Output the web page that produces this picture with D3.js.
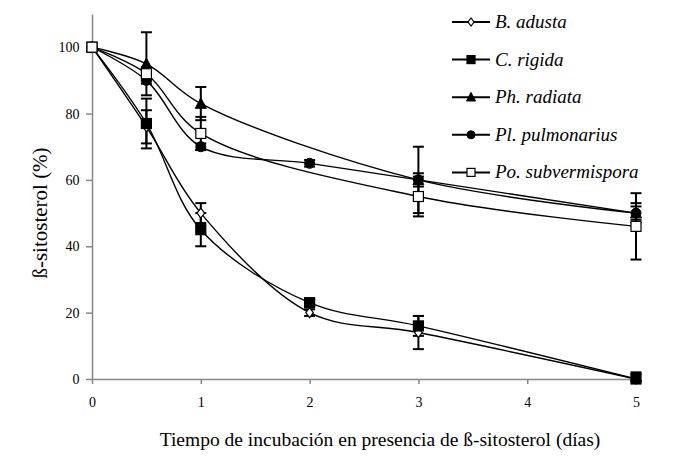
<!DOCTYPE html>
<html>
<head>
<meta charset="utf-8">
<script src="https://cdn.jsdelivr.net/npm/d3@7"></script>
<style>
  body { margin: 0; background: #fff; }
</style>
</head>
<body>
<svg id="chart" width="690" height="457"></svg>
<script>
// ---------- data ----------
const seriesNames = ['B. adusta', 'C. rigida', 'Ph. radiata', 'Pl. pulmonarius', 'Po. subvermispora'];
const markerTypes = ['diamondOpen', 'squareFilled', 'triangleFilled', 'circleFilled', 'squareOpen'];

const xAdusta = [0, 0.5, 1, 2, 3, 5];
const yAdusta = [100, 76, 50, 20, 14, 0];
const eAdusta = [0, 5, 3, 1, 5, 1.5];

const xRigida = [0, 0.5, 1, 2, 3, 5];
const yRigida = [100, 77, 45, 23, 16, 0];
const eRigida = [0, 7.5, 5, 1, 3, 2];

const xRadiata = [0, 0.5, 1, 3, 5];
const yRadiata = [100, 95, 83, 60, 50];
const eRadiata = [0, 9.5, 5, 2, 2];

const xPulmo = [0, 0.5, 1, 2, 3, 5];
const yPulmo = [100, 90, 70, 65, 60, 50];
const ePulmo = [0, 1, 1, 1, 10, 3];

const xSubv = [0, 0.5, 1, 3, 5];
const ySubv = [100, 92, 74, 55, 46];
const eSubv = [0, 2, 5, 6, 10];

const xTicks = [0, 1, 2, 3, 4, 5];
const yTicks = [0, 20, 40, 60, 80, 100];

const series = [
  {x: xAdusta, y: yAdusta, e: eAdusta},
  {x: xRigida, y: yRigida, e: eRigida},
  {x: xRadiata, y: yRadiata, e: eRadiata},
  {x: xPulmo, y: yPulmo, e: ePulmo},
  {x: xSubv, y: ySubv, e: eSubv}
].map((s, i) => ({
  name: seriesNames[i],
  marker: markerTypes[i],
  points: s.x.map((x, j) => ({x: x, y: s.y[j], e: s.e[j]}))
}));

const FONT = 'Liberation Serif';

// ---------- chart ----------
const svg = d3.select('#chart');
const xScale = d3.scaleLinear().domain([0, 5]).range([92, 636]);
const yScale = d3.scaleLinear().domain([0, 110]).range([379, 14]);

function translate(x, y) {
  return `translate(${x}, ${y})`;
}

// axes
const xAxis = svg.append('g')
  .attr('transform', translate(0, yScale(0)))
  .call(d3.axisBottom(xScale).tickValues(xTicks).tickFormat(d3.format('d')).tickSize(5).tickSizeOuter(0));
const yAxis = svg.append('g')
  .attr('transform', translate(xScale(0), 0))
  .call(d3.axisLeft(yScale).tickValues(yTicks).tickFormat(d3.format('d')).tickSize(6).tickSizeOuter(0));

[xAxis, yAxis].forEach(ax => {
  ax.attr('font-family', FONT).attr('font-size', 14);
  ax.select('.domain').attr('stroke', '#888').attr('stroke-width', 1.5);
  ax.selectAll('.tick line').attr('stroke', '#888').attr('stroke-width', 1.5);
  ax.selectAll('.tick text').attr('fill', '#000');
});
xAxis.selectAll('.tick text').attr('dy', '1.45em');
yAxis.selectAll('.tick text').attr('dx', '-0.25em');

// axis titles
svg.append('text')
  .attr('x', 380).attr('y', 446)
  .attr('text-anchor', 'middle')
  .attr('font-family', FONT)
  .attr('font-size', 19.5)
  .text('Tiempo de incubación en presencia de ß-sitosterol (días)');

svg.append('text')
  .attr('transform', translate(47, 213) + ' rotate(-90)')
  .attr('text-anchor', 'middle')
  .attr('font-family', FONT)
  .attr('font-size', 21)
  .text('ß-sitosterol (%)');

// lines
const line = d3.line()
  .x(p => xScale(p.x))
  .y(p => yScale(p.y))
  .curve(d3.curveCatmullRom.alpha(0.5));

const plot = svg.append('g');

series.forEach(s => {
  plot.append('path')
    .attr('d', line(s.points))
    .attr('fill', 'none')
    .attr('stroke', '#000')
    .attr('stroke-width', 1.4);
});

// error bars
series.forEach(s => {
  const bars = plot.append('g').selectAll('g')
    .data(s.points.filter(p => p.e > 0))
    .join('g');
  bars.append('line')
    .attr('x1', p => xScale(p.x)).attr('x2', p => xScale(p.x))
    .attr('y1', p => yScale(p.y + p.e)).attr('y2', p => yScale(Math.max(p.y - p.e, -0.6)))
    .attr('stroke', '#000').attr('stroke-width', 2);
  [1, -1].forEach(sign => {
    bars.append('line')
      .attr('x1', p => xScale(p.x) - 5.5).attr('x2', p => xScale(p.x) + 5.5)
      .attr('y1', p => yScale(Math.max(p.y + sign * p.e, -0.6)))
      .attr('y2', p => yScale(Math.max(p.y + sign * p.e, -0.6)))
      .attr('stroke', '#000').attr('stroke-width', 2);
  });
});

// markers
function drawMarker(g, type, cx, cy, size) {
  const fill = type.endsWith('Open') ? '#fff' : '#000';
  if (type.startsWith('square')) {
    g.append('rect')
      .attr('x', cx - size / 2).attr('y', cy - size / 2)
      .attr('width', size).attr('height', size)
      .attr('fill', fill).attr('stroke', '#000').attr('stroke-width', 1.2);
  } else if (type.startsWith('circle')) {
    g.append('circle')
      .attr('cx', cx).attr('cy', cy).attr('r', size / 2)
      .attr('fill', fill).attr('stroke', '#000').attr('stroke-width', 1);
  } else if (type.startsWith('triangle')) {
    const h = size * 0.95;
    g.append('path')
      .attr('d', `M${cx},${cy - h / 2 - 1}L${cx + size / 2 + 0.5},${cy + h / 2}L${cx - size / 2 - 0.5},${cy + h / 2}Z`)
      .attr('fill', fill).attr('stroke', '#000').attr('stroke-width', 1);
  } else {
    const r = size / 2;
    g.append('path')
      .attr('d', `M${cx},${cy - r}L${cx + r * 0.75},${cy}L${cx},${cy + r}L${cx - r * 0.75},${cy}Z`)
      .attr('fill', fill).attr('stroke', '#000').attr('stroke-width', 1.2);
  }
}

series.forEach(s => {
  const g = plot.append('g');
  s.points.forEach(p => drawMarker(g, s.marker, xScale(p.x), yScale(p.y), 10));
});

// legend
const legend = svg.append('g');
series.forEach((s, i) => {
  const ly = 22 + i * 37.6;
  legend.append('line')
    .attr('x1', 452).attr('x2', 490)
    .attr('y1', ly).attr('y2', ly)
    .attr('stroke', '#000').attr('stroke-width', 2);
  drawMarker(legend, s.marker, 471, ly, 8);
  legend.append('text')
    .attr('x', 495).attr('y', ly + 6)
    .attr('font-family', FONT)
    .attr('font-size', 19)
    .attr('font-style', 'italic')
    .text(s.name);
});
</script>
</body>
</html>
